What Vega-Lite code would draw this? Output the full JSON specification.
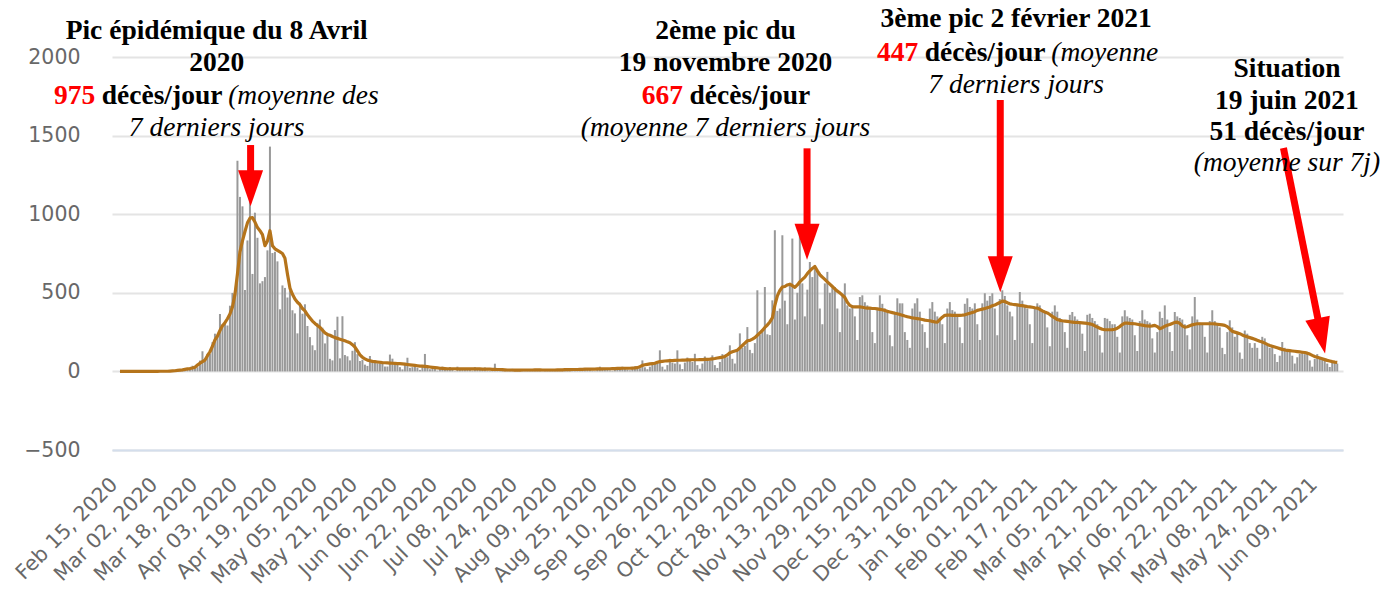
{
"$schema": "https://vega.github.io/schema/vega-lite/v6.json",
"width": 1231, "height": 393,
"autosize": {"type": "none"},
"padding": {"left": 112, "top": 57, "right": 52, "bottom": 145},
"background": "white",
"config": {"view": {"stroke": null}},
"datasets": {
"series": [
{"d":"2020-02-15","v":1,"a":0},{"d":"2020-02-16","v":0,"a":0},{"d":"2020-02-17","v":0,"a":0},{"d":"2020-02-18","v":0,"a":0},{"d":"2020-02-19","v":0,"a":0},{"d":"2020-02-20","v":0,"a":0},{"d":"2020-02-21","v":0,"a":0},
{"d":"2020-02-22","v":0,"a":0},{"d":"2020-02-23","v":0,"a":0},{"d":"2020-02-24","v":0,"a":0},{"d":"2020-02-25","v":0,"a":0},{"d":"2020-02-26","v":1,"a":0},{"d":"2020-02-27","v":0,"a":0},{"d":"2020-02-28","v":0,"a":0},
{"d":"2020-02-29","v":0,"a":0},{"d":"2020-03-01","v":0,"a":0},{"d":"2020-03-02","v":1,"a":1},{"d":"2020-03-03","v":1,"a":1},{"d":"2020-03-04","v":1,"a":1},{"d":"2020-03-05","v":2,"a":1},{"d":"2020-03-06","v":2,"a":2},
{"d":"2020-03-07","v":3,"a":3},{"d":"2020-03-08","v":8,"a":4},{"d":"2020-03-09","v":9,"a":6},{"d":"2020-03-10","v":11,"a":8},{"d":"2020-03-11","v":15,"a":10},{"d":"2020-03-12","v":13,"a":13},{"d":"2020-03-13","v":18,"a":16},
{"d":"2020-03-14","v":12,"a":18},{"d":"2020-03-15","v":36,"a":22},{"d":"2020-03-16","v":21,"a":27},{"d":"2020-03-17","v":27,"a":40},{"d":"2020-03-18","v":69,"a":52},{"d":"2020-03-19","v":128,"a":62},{"d":"2020-03-20","v":78,"a":72},
{"d":"2020-03-21","v":112,"a":100},{"d":"2020-03-22","v":112,"a":125},{"d":"2020-03-23","v":186,"a":160},{"d":"2020-03-24","v":240,"a":200},{"d":"2020-03-25","v":231,"a":225},{"d":"2020-03-26","v":365,"a":260},{"d":"2020-03-27","v":299,"a":290},
{"d":"2020-03-28","v":319,"a":310},{"d":"2020-03-29","v":292,"a":335},{"d":"2020-03-30","v":418,"a":365},{"d":"2020-03-31","v":499,"a":410},{"d":"2020-04-01","v":509,"a":490},{"d":"2020-04-02","v":1340,"a":620},{"d":"2020-04-03","v":1110,"a":760},
{"d":"2020-04-04","v":1050,"a":830},{"d":"2020-04-05","v":518,"a":890},{"d":"2020-04-06","v":833,"a":945},{"d":"2020-04-07","v":1420,"a":975},{"d":"2020-04-08","v":620,"a":978},{"d":"2020-04-09","v":1010,"a":950},{"d":"2020-04-10","v":850,"a":915},
{"d":"2020-04-11","v":560,"a":895},{"d":"2020-04-12","v":574,"a":870},{"d":"2020-04-13","v":600,"a":800},{"d":"2020-04-14","v":770,"a":830},{"d":"2020-04-15","v":1430,"a":895},{"d":"2020-04-16","v":753,"a":800},{"d":"2020-04-17","v":761,"a":780},
{"d":"2020-04-18","v":700,"a":770},{"d":"2020-04-19","v":395,"a":760},{"d":"2020-04-20","v":547,"a":750},{"d":"2020-04-21","v":531,"a":720},{"d":"2020-04-22","v":470,"a":620},{"d":"2020-04-23","v":516,"a":530},{"d":"2020-04-24","v":389,"a":490},
{"d":"2020-04-25","v":369,"a":460},{"d":"2020-04-26","v":242,"a":440},{"d":"2020-04-27","v":437,"a":425},{"d":"2020-04-28","v":367,"a":400},{"d":"2020-04-29","v":427,"a":385},{"d":"2020-04-30","v":289,"a":360},{"d":"2020-05-01","v":218,"a":340},
{"d":"2020-05-02","v":166,"a":320},{"d":"2020-05-03","v":135,"a":305},{"d":"2020-05-04","v":306,"a":292},{"d":"2020-05-05","v":330,"a":280},{"d":"2020-05-06","v":278,"a":262},{"d":"2020-05-07","v":178,"a":245},{"d":"2020-05-08","v":243,"a":235},
{"d":"2020-05-09","v":80,"a":230},{"d":"2020-05-10","v":70,"a":222},{"d":"2020-05-11","v":263,"a":215},{"d":"2020-05-12","v":348,"a":210},{"d":"2020-05-13","v":83,"a":205},{"d":"2020-05-14","v":351,"a":200},{"d":"2020-05-15","v":104,"a":195},
{"d":"2020-05-16","v":96,"a":188},{"d":"2020-05-17","v":70,"a":182},{"d":"2020-05-18","v":131,"a":170},{"d":"2020-05-19","v":186,"a":155},{"d":"2020-05-20","v":110,"a":130},{"d":"2020-05-21","v":66,"a":105},{"d":"2020-05-22","v":74,"a":90},
{"d":"2020-05-23","v":43,"a":80},{"d":"2020-05-24","v":35,"a":72},{"d":"2020-05-25","v":98,"a":68},{"d":"2020-05-26","v":65,"a":64},{"d":"2020-05-27","v":66,"a":62},{"d":"2020-05-28","v":52,"a":60},{"d":"2020-05-29","v":52,"a":58},
{"d":"2020-05-30","v":57,"a":56},{"d":"2020-05-31","v":31,"a":55},{"d":"2020-06-01","v":31,"a":54},{"d":"2020-06-02","v":107,"a":53},{"d":"2020-06-03","v":81,"a":52},{"d":"2020-06-04","v":44,"a":51},{"d":"2020-06-05","v":46,"a":50},
{"d":"2020-06-06","v":27,"a":49},{"d":"2020-06-07","v":13,"a":48},{"d":"2020-06-08","v":54,"a":46},{"d":"2020-06-09","v":87,"a":44},{"d":"2020-06-10","v":23,"a":42},{"d":"2020-06-11","v":27,"a":40},{"d":"2020-06-12","v":28,"a":38},
{"d":"2020-06-13","v":24,"a":36},{"d":"2020-06-14","v":10,"a":34},{"d":"2020-06-15","v":29,"a":33},{"d":"2020-06-16","v":111,"a":32},{"d":"2020-06-17","v":28,"a":30},{"d":"2020-06-18","v":14,"a":28},{"d":"2020-06-19","v":18,"a":26},
{"d":"2020-06-20","v":21,"a":24},{"d":"2020-06-21","v":5,"a":22},{"d":"2020-06-22","v":23,"a":20},{"d":"2020-06-23","v":30,"a":19},{"d":"2020-06-24","v":14,"a":18},{"d":"2020-06-25","v":11,"a":17},{"d":"2020-06-26","v":28,"a":17},
{"d":"2020-06-27","v":14,"a":17},{"d":"2020-06-28","v":2,"a":17},{"d":"2020-06-29","v":30,"a":16},{"d":"2020-06-30","v":16,"a":16},{"d":"2020-07-01","v":15,"a":16},{"d":"2020-07-02","v":20,"a":16},{"d":"2020-07-03","v":13,"a":16},
{"d":"2020-07-04","v":9,"a":16},{"d":"2020-07-05","v":5,"a":16},{"d":"2020-07-06","v":27,"a":16},{"d":"2020-07-07","v":14,"a":16},{"d":"2020-07-08","v":18,"a":16},{"d":"2020-07-09","v":12,"a":15},{"d":"2020-07-10","v":25,"a":15},
{"d":"2020-07-11","v":5,"a":14},{"d":"2020-07-12","v":3,"a":14},{"d":"2020-07-13","v":11,"a":13},{"d":"2020-07-14","v":49,"a":13},{"d":"2020-07-15","v":11,"a":12},{"d":"2020-07-16","v":17,"a":12},{"d":"2020-07-17","v":8,"a":11},
{"d":"2020-07-18","v":3,"a":10},{"d":"2020-07-19","v":2,"a":9},{"d":"2020-07-20","v":15,"a":9},{"d":"2020-07-21","v":16,"a":9},{"d":"2020-07-22","v":12,"a":8},{"d":"2020-07-23","v":12,"a":8},{"d":"2020-07-24","v":14,"a":8},
{"d":"2020-07-25","v":9,"a":9},{"d":"2020-07-26","v":2,"a":9},{"d":"2020-07-27","v":13,"a":9},{"d":"2020-07-28","v":12,"a":9},{"d":"2020-07-29","v":10,"a":9},{"d":"2020-07-30","v":14,"a":10},{"d":"2020-07-31","v":9,"a":10},
{"d":"2020-08-01","v":3,"a":10},{"d":"2020-08-02","v":1,"a":9},{"d":"2020-08-03","v":14,"a":9},{"d":"2020-08-04","v":11,"a":9},{"d":"2020-08-05","v":13,"a":9},{"d":"2020-08-06","v":12,"a":9},{"d":"2020-08-07","v":10,"a":9},
{"d":"2020-08-08","v":3,"a":10},{"d":"2020-08-09","v":2,"a":10},{"d":"2020-08-10","v":15,"a":10},{"d":"2020-08-11","v":15,"a":11},{"d":"2020-08-12","v":17,"a":11},{"d":"2020-08-13","v":11,"a":11},{"d":"2020-08-14","v":12,"a":12},
{"d":"2020-08-15","v":5,"a":12},{"d":"2020-08-16","v":3,"a":12},{"d":"2020-08-17","v":17,"a":13},{"d":"2020-08-18","v":19,"a":13},{"d":"2020-08-19","v":14,"a":14},{"d":"2020-08-20","v":17,"a":14},{"d":"2020-08-21","v":18,"a":15},
{"d":"2020-08-22","v":4,"a":15},{"d":"2020-08-23","v":2,"a":15},{"d":"2020-08-24","v":15,"a":16},{"d":"2020-08-25","v":30,"a":16},{"d":"2020-08-26","v":20,"a":16},{"d":"2020-08-27","v":19,"a":17},{"d":"2020-08-28","v":20,"a":17},
{"d":"2020-08-29","v":7,"a":17},{"d":"2020-08-30","v":4,"a":18},{"d":"2020-08-31","v":25,"a":18},{"d":"2020-09-01","v":25,"a":19},{"d":"2020-09-02","v":20,"a":19},{"d":"2020-09-03","v":30,"a":20},{"d":"2020-09-04","v":28,"a":20},
{"d":"2020-09-05","v":12,"a":20},{"d":"2020-09-06","v":7,"a":20},{"d":"2020-09-07","v":25,"a":21},{"d":"2020-09-08","v":32,"a":22},{"d":"2020-09-09","v":29,"a":24},{"d":"2020-09-10","v":20,"a":30},{"d":"2020-09-11","v":70,"a":38},
{"d":"2020-09-12","v":26,"a":42},{"d":"2020-09-13","v":14,"a":45},{"d":"2020-09-14","v":30,"a":48},{"d":"2020-09-15","v":45,"a":50},{"d":"2020-09-16","v":50,"a":52},{"d":"2020-09-17","v":55,"a":58},{"d":"2020-09-18","v":134,"a":62},
{"d":"2020-09-19","v":30,"a":64},{"d":"2020-09-20","v":12,"a":66},{"d":"2020-09-21","v":40,"a":67},{"d":"2020-09-22","v":80,"a":68},{"d":"2020-09-23","v":55,"a":69},{"d":"2020-09-24","v":50,"a":70},{"d":"2020-09-25","v":134,"a":71},
{"d":"2020-09-26","v":45,"a":71},{"d":"2020-09-27","v":15,"a":72},{"d":"2020-09-28","v":56,"a":72},{"d":"2020-09-29","v":88,"a":73},{"d":"2020-09-30","v":70,"a":73},{"d":"2020-10-01","v":60,"a":74},{"d":"2020-10-02","v":112,"a":74},
{"d":"2020-10-03","v":40,"a":74},{"d":"2020-10-04","v":17,"a":75},{"d":"2020-10-05","v":50,"a":75},{"d":"2020-10-06","v":95,"a":76},{"d":"2020-10-07","v":80,"a":77},{"d":"2020-10-08","v":70,"a":78},{"d":"2020-10-09","v":102,"a":80},
{"d":"2020-10-10","v":40,"a":82},{"d":"2020-10-11","v":22,"a":85},{"d":"2020-10-12","v":60,"a":88},{"d":"2020-10-13","v":110,"a":91},{"d":"2020-10-14","v":100,"a":95},{"d":"2020-10-15","v":90,"a":105},{"d":"2020-10-16","v":166,"a":118},
{"d":"2020-10-17","v":80,"a":125},{"d":"2020-10-18","v":50,"a":130},{"d":"2020-10-19","v":130,"a":135},{"d":"2020-10-20","v":242,"a":150},{"d":"2020-10-21","v":150,"a":165},{"d":"2020-10-22","v":162,"a":180},{"d":"2020-10-23","v":282,"a":195},
{"d":"2020-10-24","v":137,"a":197},{"d":"2020-10-25","v":116,"a":205},{"d":"2020-10-26","v":180,"a":215},{"d":"2020-10-27","v":516,"a":230},{"d":"2020-10-28","v":235,"a":245},{"d":"2020-10-29","v":250,"a":260},{"d":"2020-10-30","v":537,"a":280},
{"d":"2020-10-31","v":236,"a":295},{"d":"2020-11-01","v":231,"a":315},{"d":"2020-11-02","v":452,"a":340},{"d":"2020-11-03","v":898,"a":420},{"d":"2020-11-04","v":385,"a":480},{"d":"2020-11-05","v":400,"a":515},{"d":"2020-11-06","v":866,"a":537},
{"d":"2020-11-07","v":450,"a":540},{"d":"2020-11-08","v":300,"a":550},{"d":"2020-11-09","v":550,"a":555},{"d":"2020-11-10","v":845,"a":545},{"d":"2020-11-11","v":330,"a":535},{"d":"2020-11-12","v":500,"a":550},{"d":"2020-11-13","v":866,"a":570},
{"d":"2020-11-14","v":560,"a":585},{"d":"2020-11-15","v":350,"a":600},{"d":"2020-11-16","v":520,"a":622},{"d":"2020-11-17","v":696,"a":640},{"d":"2020-11-18","v":600,"a":655},{"d":"2020-11-19","v":675,"a":667},{"d":"2020-11-20","v":643,"a":640},
{"d":"2020-11-21","v":400,"a":615},{"d":"2020-11-22","v":300,"a":600},{"d":"2020-11-23","v":560,"a":585},{"d":"2020-11-24","v":633,"a":570},{"d":"2020-11-25","v":500,"a":555},{"d":"2020-11-26","v":530,"a":540},{"d":"2020-11-27","v":537,"a":525},
{"d":"2020-11-28","v":400,"a":510},{"d":"2020-11-29","v":250,"a":500},{"d":"2020-11-30","v":494,"a":485},{"d":"2020-12-01","v":560,"a":470},{"d":"2020-12-02","v":420,"a":440},{"d":"2020-12-03","v":400,"a":420},{"d":"2020-12-04","v":420,"a":412},
{"d":"2020-12-05","v":350,"a":410},{"d":"2020-12-06","v":200,"a":410},{"d":"2020-12-07","v":473,"a":410},{"d":"2020-12-08","v":484,"a":408},{"d":"2020-12-09","v":440,"a":405},{"d":"2020-12-10","v":420,"a":403},{"d":"2020-12-11","v":400,"a":402},
{"d":"2020-12-12","v":250,"a":400},{"d":"2020-12-13","v":180,"a":400},{"d":"2020-12-14","v":390,"a":398},{"d":"2020-12-15","v":484,"a":395},{"d":"2020-12-16","v":430,"a":392},{"d":"2020-12-17","v":400,"a":388},{"d":"2020-12-18","v":380,"a":382},
{"d":"2020-12-19","v":230,"a":378},{"d":"2020-12-20","v":160,"a":374},{"d":"2020-12-21","v":380,"a":370},{"d":"2020-12-22","v":465,"a":367},{"d":"2020-12-23","v":433,"a":362},{"d":"2020-12-24","v":433,"a":357},{"d":"2020-12-25","v":250,"a":352},
{"d":"2020-12-26","v":200,"a":348},{"d":"2020-12-27","v":150,"a":344},{"d":"2020-12-28","v":400,"a":340},{"d":"2020-12-29","v":433,"a":338},{"d":"2020-12-30","v":465,"a":336},{"d":"2020-12-31","v":380,"a":333},{"d":"2021-01-01","v":300,"a":330},
{"d":"2021-01-02","v":250,"a":326},{"d":"2021-01-03","v":150,"a":324},{"d":"2021-01-04","v":400,"a":322},{"d":"2021-01-05","v":441,"a":318},{"d":"2021-01-06","v":380,"a":315},{"d":"2021-01-07","v":350,"a":314},{"d":"2021-01-08","v":320,"a":330},
{"d":"2021-01-09","v":300,"a":345},{"d":"2021-01-10","v":180,"a":357},{"d":"2021-01-11","v":400,"a":358},{"d":"2021-01-12","v":441,"a":358},{"d":"2021-01-13","v":390,"a":357},{"d":"2021-01-14","v":380,"a":357},{"d":"2021-01-15","v":350,"a":357},
{"d":"2021-01-16","v":280,"a":357},{"d":"2021-01-17","v":180,"a":358},{"d":"2021-01-18","v":430,"a":360},{"d":"2021-01-19","v":465,"a":365},{"d":"2021-01-20","v":410,"a":370},{"d":"2021-01-21","v":400,"a":375},{"d":"2021-01-22","v":433,"a":380},
{"d":"2021-01-23","v":300,"a":388},{"d":"2021-01-24","v":200,"a":392},{"d":"2021-01-25","v":433,"a":396},{"d":"2021-01-26","v":497,"a":400},{"d":"2021-01-27","v":450,"a":405},{"d":"2021-01-28","v":480,"a":410},{"d":"2021-01-29","v":497,"a":418},
{"d":"2021-01-30","v":400,"a":422},{"d":"2021-01-31","v":230,"a":430},{"d":"2021-02-01","v":460,"a":438},{"d":"2021-02-02","v":516,"a":447},{"d":"2021-02-03","v":480,"a":445},{"d":"2021-02-04","v":420,"a":437},{"d":"2021-02-05","v":380,"a":430},
{"d":"2021-02-06","v":350,"a":427},{"d":"2021-02-07","v":200,"a":425},{"d":"2021-02-08","v":420,"a":423},{"d":"2021-02-09","v":505,"a":420},{"d":"2021-02-10","v":450,"a":418},{"d":"2021-02-11","v":420,"a":415},{"d":"2021-02-12","v":400,"a":412},
{"d":"2021-02-13","v":300,"a":410},{"d":"2021-02-14","v":180,"a":408},{"d":"2021-02-15","v":400,"a":405},{"d":"2021-02-16","v":433,"a":403},{"d":"2021-02-17","v":420,"a":395},{"d":"2021-02-18","v":380,"a":385},{"d":"2021-02-19","v":380,"a":378},
{"d":"2021-02-20","v":280,"a":372},{"d":"2021-02-21","v":160,"a":362},{"d":"2021-02-22","v":380,"a":350},{"d":"2021-02-23","v":420,"a":340},{"d":"2021-02-24","v":380,"a":330},{"d":"2021-02-25","v":340,"a":325},{"d":"2021-02-26","v":320,"a":322},
{"d":"2021-02-27","v":250,"a":320},{"d":"2021-02-28","v":150,"a":318},{"d":"2021-03-01","v":360,"a":316},{"d":"2021-03-02","v":378,"a":314},{"d":"2021-03-03","v":350,"a":312},{"d":"2021-03-04","v":330,"a":311},{"d":"2021-03-05","v":310,"a":310},
{"d":"2021-03-06","v":240,"a":309},{"d":"2021-03-07","v":130,"a":307},{"d":"2021-03-08","v":360,"a":305},{"d":"2021-03-09","v":367,"a":302},{"d":"2021-03-10","v":340,"a":298},{"d":"2021-03-11","v":320,"a":290},{"d":"2021-03-12","v":300,"a":282},
{"d":"2021-03-13","v":230,"a":275},{"d":"2021-03-14","v":120,"a":268},{"d":"2021-03-15","v":340,"a":265},{"d":"2021-03-16","v":335,"a":265},{"d":"2021-03-17","v":320,"a":265},{"d":"2021-03-18","v":300,"a":266},{"d":"2021-03-19","v":300,"a":268},
{"d":"2021-03-20","v":220,"a":275},{"d":"2021-03-21","v":120,"a":285},{"d":"2021-03-22","v":350,"a":298},{"d":"2021-03-23","v":389,"a":308},{"d":"2021-03-24","v":350,"a":307},{"d":"2021-03-25","v":340,"a":305},{"d":"2021-03-26","v":330,"a":304},
{"d":"2021-03-27","v":230,"a":303},{"d":"2021-03-28","v":130,"a":300},{"d":"2021-03-29","v":320,"a":297},{"d":"2021-03-30","v":389,"a":294},{"d":"2021-03-31","v":330,"a":291},{"d":"2021-04-01","v":320,"a":289},{"d":"2021-04-02","v":310,"a":288},
{"d":"2021-04-03","v":210,"a":290},{"d":"2021-04-04","v":120,"a":293},{"d":"2021-04-05","v":250,"a":285},{"d":"2021-04-06","v":380,"a":272},{"d":"2021-04-07","v":340,"a":278},{"d":"2021-04-08","v":420,"a":287},{"d":"2021-04-09","v":330,"a":293},
{"d":"2021-04-10","v":250,"a":298},{"d":"2021-04-11","v":130,"a":305},{"d":"2021-04-12","v":378,"a":312},{"d":"2021-04-13","v":350,"a":314},{"d":"2021-04-14","v":340,"a":305},{"d":"2021-04-15","v":330,"a":290},{"d":"2021-04-16","v":300,"a":282},
{"d":"2021-04-17","v":230,"a":284},{"d":"2021-04-18","v":140,"a":290},{"d":"2021-04-19","v":350,"a":296},{"d":"2021-04-20","v":473,"a":300},{"d":"2021-04-21","v":330,"a":303},{"d":"2021-04-22","v":310,"a":303},{"d":"2021-04-23","v":300,"a":303},
{"d":"2021-04-24","v":220,"a":303},{"d":"2021-04-25","v":120,"a":303},{"d":"2021-04-26","v":320,"a":303},{"d":"2021-04-27","v":389,"a":303},{"d":"2021-04-28","v":320,"a":302},{"d":"2021-04-29","v":300,"a":300},{"d":"2021-04-30","v":280,"a":298},
{"d":"2021-05-01","v":150,"a":296},{"d":"2021-05-02","v":110,"a":293},{"d":"2021-05-03","v":250,"a":285},{"d":"2021-05-04","v":325,"a":270},{"d":"2021-05-05","v":280,"a":255},{"d":"2021-05-06","v":220,"a":250},{"d":"2021-05-07","v":240,"a":245},
{"d":"2021-05-08","v":120,"a":240},{"d":"2021-05-09","v":80,"a":232},{"d":"2021-05-10","v":260,"a":225},{"d":"2021-05-11","v":240,"a":220},{"d":"2021-05-12","v":180,"a":215},{"d":"2021-05-13","v":150,"a":210},{"d":"2021-05-14","v":180,"a":205},
{"d":"2021-05-15","v":150,"a":198},{"d":"2021-05-16","v":80,"a":192},{"d":"2021-05-17","v":220,"a":187},{"d":"2021-05-18","v":210,"a":180},{"d":"2021-05-19","v":170,"a":172},{"d":"2021-05-20","v":150,"a":165},{"d":"2021-05-21","v":160,"a":160},
{"d":"2021-05-22","v":110,"a":155},{"d":"2021-05-23","v":60,"a":150},{"d":"2021-05-24","v":100,"a":145},{"d":"2021-05-25","v":187,"a":140},{"d":"2021-05-26","v":150,"a":136},{"d":"2021-05-27","v":140,"a":134},{"d":"2021-05-28","v":130,"a":132},
{"d":"2021-05-29","v":100,"a":130},{"d":"2021-05-30","v":50,"a":128},{"d":"2021-05-31","v":90,"a":126},{"d":"2021-06-01","v":112,"a":124},{"d":"2021-06-02","v":130,"a":122},{"d":"2021-06-03","v":110,"a":120},{"d":"2021-06-04","v":120,"a":116},
{"d":"2021-06-05","v":70,"a":110},{"d":"2021-06-06","v":30,"a":102},{"d":"2021-06-07","v":80,"a":95},{"d":"2021-06-08","v":110,"a":90},{"d":"2021-06-09","v":90,"a":85},{"d":"2021-06-10","v":85,"a":80},{"d":"2021-06-11","v":70,"a":75},
{"d":"2021-06-12","v":50,"a":70},{"d":"2021-06-13","v":28,"a":66},{"d":"2021-06-14","v":60,"a":62},{"d":"2021-06-15","v":62,"a":59},{"d":"2021-06-16","v":50,"a":57}
],
"shafts": [
{"d":"2020-04-07T06:14:00Z","v":1440,"d2":"2020-04-07T06:14:00Z","v2":1268},
{"d":"2020-11-15T21:07:00Z","v":1419,"d2":"2020-11-15T21:07:00Z","v2":931},
{"d":"2021-02-01T04:19:00Z","v":1726,"d2":"2021-02-01T04:19:00Z","v2":721},
{"d":"2021-05-25T11:31:00Z","v":1421,"d2":"2021-06-08T08:53:00Z","v2":327}
],
"heads": [
{"d":"2020-04-07T06:14:00Z","v":1165},
{"d":"2020-11-15T21:07:00Z","v":825},
{"d":"2021-02-01T04:19:00Z","v":618}
],
"headDiag": [
{"d":"2021-06-09T15:07:00Z","v":226}
],
"boldCenter": [
{"t":"Pic épidémique du 8 Avril","d":"2020-03-24T16:34:00Z","v":2114},
{"t":"2020","d":"2020-03-24T16:34:00Z","v":1911},
{"t":"2ème pic du","d":"2020-10-14T06:14:00Z","v":2114},
{"t":"19 novembre 2020","d":"2020-10-14T06:14:00Z","v":1911},
{"t":"3ème pic 2 février 2021","d":"2021-02-07T12:43:00Z","v":2191},
{"t":"Situation","d":"2021-05-26T20:53:00Z","v":1873},
{"t":"19 juin 2021","d":"2021-05-26T20:53:00Z","v":1669},
{"t":"51 décès/jour","d":"2021-05-26T20:53:00Z","v":1472}
],
"boldLeft": [
{"t":"décès/jour","d":"2020-02-07T16:48:00Z","v":1701},
{"t":"décès/jour","d":"2020-09-29T21:07:00Z","v":1701},
{"t":"décès/jour","d":"2021-01-01T23:02:00Z","v":1975}
],
"redLeft": [
{"t":"975","d":"2020-01-19T14:38:00Z","v":1701},
{"t":"667","d":"2020-09-10T18:29:00Z","v":1701},
{"t":"447","d":"2020-12-13T21:07:00Z","v":1975}
],
"italicCenter": [
{"t":"7 derniers jours","d":"2020-03-24T16:34:00Z","v":1498},
{"t":"(moyenne 7 derniers jours","d":"2020-10-14T06:14:00Z","v":1498},
{"t":"7 derniers jours","d":"2021-02-07T12:43:00Z","v":1771},
{"t":"(moyenne sur 7j)","d":"2021-05-26T20:53:00Z","v":1275}
],
"italicLeft": [
{"t":"(moyenne des","d":"2020-03-29T07:00:00Z","v":1701},
{"t":"(moyenne","d":"2021-02-21T13:55:00Z","v":1975}
]
},
"encoding": {
"x": {"field": "d", "type": "temporal", "title": null,
 "scale": {"type": "utc", "domain": [1581621942857, 1623827657143]},
 "axis": {"values": [1581724800000,1583107200000,1584489600000,1585872000000,1587254400000,1588636800000,1590019200000,1591401600000,1592784000000,1594166400000,1595548800000,1596931200000,1598313600000,1599696000000,1601078400000,1602460800000,1603843200000,1605225600000,1606608000000,1607990400000,1609372800000,1610755200000,1612137600000,1613520000000,1614902400000,1616284800000,1617667200000,1619049600000,1620432000000,1621814400000,1623196800000],
  "labelExpr": "utcFormat(datum.value, '%b %d, %Y')", "labelAngle": -45, "labelFont": "DejaVu Sans", "labelFontSize": 20.5, "labelColor": "#686868",
  "ticks": false, "grid": false, "domain": true, "domainColor": "#d4deec", "domainWidth": 2, "labelPadding": 24, "labelOffset": -13, "labelOverlap": false, "labelFlush": false, "labelBound": false}},
"y": {"field": "v", "type": "quantitative", "title": null,
 "scale": {"domain": [-500, 2000], "nice": false, "zero": false},
 "axis": {"values": [-500, 0, 500, 1000, 1500, 2000], "format": "d", "grid": true, "gridColor": "#e4e4e4", "gridWidth": 2, "ticks": false, "domain": false,
  "labelFont": "DejaVu Sans", "labelFontSize": 20.5, "labelColor": "#686868", "labelPadding": 32}}
},
"layer": [
{"data": {"name": "series"}, "mark": {"type": "bar", "color": "#999999", "width": 2}},
{"data": {"name": "series"}, "mark": {"type": "line", "color": "#b5741b", "strokeWidth": 3.2, "strokeJoin": "round"},
 "encoding": {"y": {"field": "a", "type": "quantitative", "title": null}}},
{"data": {"name": "shafts"}, "mark": {"type": "rule", "color": "#ff0000", "strokeWidth": 7},
 "encoding": {"x2": {"field": "d2"}, "y2": {"field": "v2"}}},
{"data": {"name": "heads"}, "mark": {"type": "point", "filled": true, "color": "#ff0000", "opacity": 1, "size": 625, "shape": "M-1,-1.44L1,-1.44L0,1.44Z"}},
{"data": {"name": "headDiag"}, "mark": {"type": "point", "filled": true, "color": "#ff0000", "opacity": 1, "size": 625, "angle": -12, "shape": "M-1,-1.44L1,-1.44L0,1.44Z"}},
{"data": {"name": "boldCenter"}, "mark": {"type": "text", "font": "Liberation Serif", "fontSize": 27.5, "fontWeight": "bold", "color": "#000000", "align": "center", "baseline": "alphabetic"},
 "encoding": {"text": {"field": "t"}}},
{"data": {"name": "boldLeft"}, "mark": {"type": "text", "font": "Liberation Serif", "fontSize": 27.5, "fontWeight": "bold", "color": "#000000", "align": "left", "baseline": "alphabetic"},
 "encoding": {"text": {"field": "t"}}},
{"data": {"name": "redLeft"}, "mark": {"type": "text", "font": "Liberation Serif", "fontSize": 27.5, "fontWeight": "bold", "color": "#ff0000", "align": "left", "baseline": "alphabetic"},
 "encoding": {"text": {"field": "t"}}},
{"data": {"name": "italicCenter"}, "mark": {"type": "text", "font": "Liberation Serif", "fontSize": 27.5, "fontStyle": "italic", "color": "#000000", "align": "center", "baseline": "alphabetic"},
 "encoding": {"text": {"field": "t"}}},
{"data": {"name": "italicLeft"}, "mark": {"type": "text", "font": "Liberation Serif", "fontSize": 27.5, "fontStyle": "italic", "color": "#000000", "align": "left", "baseline": "alphabetic"},
 "encoding": {"text": {"field": "t"}}}
]
}
